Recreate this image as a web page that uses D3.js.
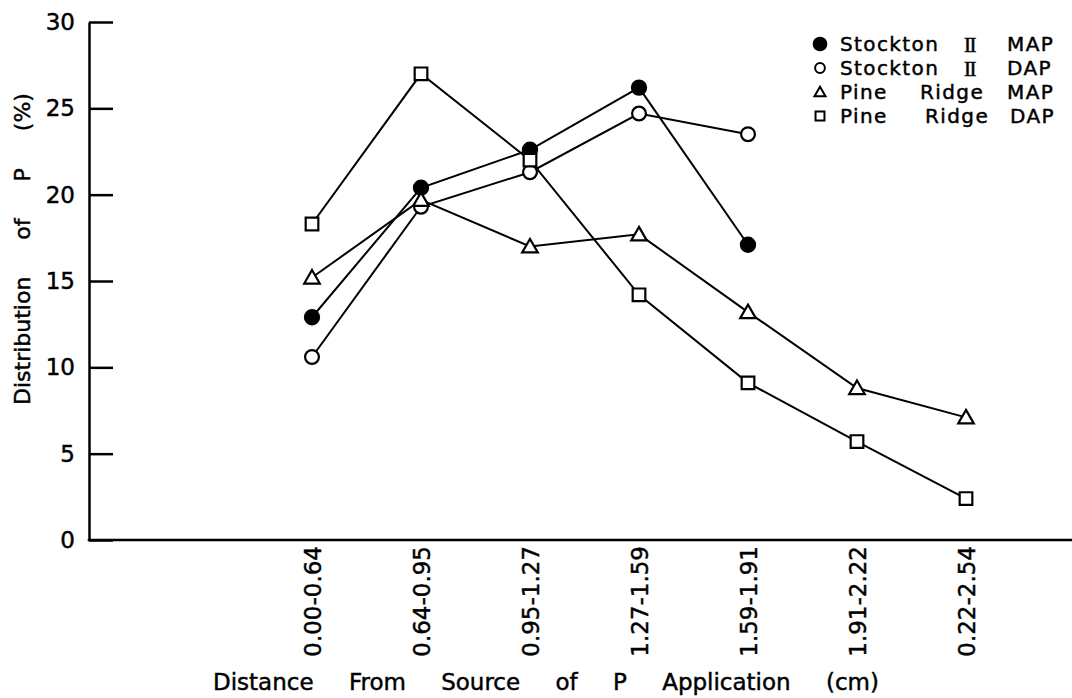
<!DOCTYPE html>
<html>
<head>
<meta charset="utf-8">
<script src="https://cdn.jsdelivr.net/npm/d3@7"></script>
<style>
  html, body { margin: 0; padding: 0; background: #fff; }
  svg { display: block; }
  text { font-family: "DejaVu Sans", sans-serif; fill: #000; stroke: #000; stroke-width: 0.45px; }
</style>
</head>
<body>
<svg id="chart" width="1072" height="698"></svg>
<script>
// Distance classes (cm) from the fertilizer band
const categories = ["0.00-0.64", "0.64-0.95", "0.95-1.27", "1.27-1.59", "1.59-1.91", "1.91-2.22", "0.22-2.54"];

// Distribution of P (%) for each soil / fertilizer combination
const stocktonMAP = [12.9, 20.4, 22.6, 26.2, 17.1, null, null];
const stocktonDAP = [10.6, 19.3, 21.3, 24.7, 23.5, null, null];
const pineRidgeMAP = [15.2, 19.7, 17.0, 17.7, 13.2, 8.8, 7.1];
const pineRidgeDAP = [18.3, 27.0, 22.0, 14.2, 9.1, 5.7, 2.4];

const yTicks = [0, 5, 10, 15, 20, 25, 30];

const seriesNames = ["Stockton", "Stockton", "Pine", "Pine"];
const seriesSites = ["II", "II", "Ridge", "Ridge"];
const seriesFerts = ["MAP", "DAP", "MAP", "DAP"];

const series = [
  { values: stocktonMAP, shape: "circle", filled: true },
  { values: stocktonDAP, shape: "circle", filled: false },
  { values: pineRidgeMAP, shape: "triangle", filled: false },
  { values: pineRidgeDAP, shape: "square", filled: false }
];

const svg = d3.select("#chart");

const x = d3.scalePoint().domain(categories).range([312, 966]).padding(0);
const y = d3.scaleLinear().domain([0, 30]).range([540, 22]);

const axisX0 = 89;

// Y axis: ticks pointing inward, labels on the left
const yAxis = d3.axisLeft(y)
  .tickValues(yTicks)
  .tickSizeInner(-24)
  .tickSizeOuter(0)
  .tickPadding(14)
  .tickFormat(d3.format("d"));

const gy = svg.append("g")
  .attr("transform", `translate(${axisX0},0)`)
  .call(yAxis);
gy.select(".domain").attr("stroke", "#000").attr("stroke-width", 2.5);
gy.selectAll(".tick line").attr("stroke", "#000").attr("stroke-width", 2.5);
gy.selectAll(".tick text")
  .style("font-family", "DejaVu Sans, sans-serif")
  .style("font-size", "23px")
  .attr("fill", "#000");

// X axis: baseline running to the right edge, vertical category labels
svg.append("line")
  .attr("x1", axisX0 - 1.25).attr("x2", 1072)
  .attr("y1", y(0)).attr("y2", y(0))
  .attr("stroke", "#000").attr("stroke-width", 2.5);

const xAxis = d3.axisBottom(x).tickSize(0).tickPadding(0);
const gx = svg.append("g")
  .attr("transform", `translate(0,${y(0)})`)
  .call(xAxis);
gx.select(".domain").remove();
gx.selectAll(".tick text")
  .style("font-family", "DejaVu Sans, sans-serif")
  .style("font-size", "23px")
  .attr("fill", "#000")
  .attr("text-anchor", "end")
  .attr("y", 0)
  .attr("dy", "0.36em")
  .attr("transform", "translate(0,6) rotate(-90)");

// Axis titles
svg.append("text")
  .attr("x", 213).attr("y", 690)
  .style("font-size", "23px")
  .style("word-spacing", "28px")
  .attr("xml:space", "preserve")
  .text("Distance From Source of P Application (cm)");

svg.append("text")
  .attr("transform", "translate(30,405) rotate(-90)")
  .style("font-size", "22px")
  .style("word-spacing", "30px")
  .text("Distribution of P (%)");

// Marker drawing
function symbolPath(shape, scale) {
  const sym = shape === "circle" ? d3.symbolCircle
    : shape === "triangle" ? d3.symbolTriangle : d3.symbolSquare;
  const size = shape === "circle" ? 150 : shape === "triangle" ? 105 : 160;
  return d3.symbol().type(sym).size(size * scale)();
}

const line = d3.line()
  .defined(d => d.v != null)
  .x(d => x(d.c))
  .y(d => y(d.v));

const plot = svg.append("g");

series.forEach(s => {
  const pts = categories.map((c, i) => ({ c, v: s.values[i] }));
  plot.append("path")
    .datum(pts)
    .attr("d", line)
    .attr("fill", "none")
    .attr("stroke", "#000")
    .attr("stroke-width", 2);
});

series.forEach(s => {
  const pts = categories.map((c, i) => ({ c, v: s.values[i] })).filter(d => d.v != null);
  plot.selectAll(null)
    .data(pts)
    .enter()
    .append("path")
    .attr("transform", d => `translate(${x(d.c)},${y(d.v) + (s.shape === "triangle" ? 1.5 : 0)})`)
    .attr("d", symbolPath(s.shape, s.filled ? 1.05 : 1))
    .attr("fill", s.filled ? "#000" : "#fff")
    .attr("stroke", "#000")
    .attr("stroke-width", 2.2);
});

// Legend
const legendRows = [44, 68, 92, 116];
const legendFont = "20px";
const legend = svg.append("g");
series.forEach((s, i) => {
  const g = legend.append("g").attr("transform", `translate(0,${legendRows[i]})`);
  g.append("path")
    .attr("transform", `translate(820,${s.shape === "triangle" ? 1 : 0})`)
    .attr("d", symbolPath(s.shape, s.filled ? 0.85 : 0.5))
    .attr("fill", s.filled ? "#000" : "#fff")
    .attr("stroke", "#000")
    .attr("stroke-width", 2);
  g.append("text").attr("x", 840).attr("dy", "0.36em")
    .style("font-size", legendFont).style("letter-spacing", "1.4px").text(seriesNames[i]);
  const site = g.append("text").attr("dy", "0.36em").style("font-size", legendFont).text(seriesSites[i]);
  if (i < 2) {
    // Roman numeral set in a serif face so the bars carry serifs
    site.attr("x", 964)
      .style("font-family", "Liberation Serif, serif")
      .style("font-size", "21px")
      .style("letter-spacing", "-1.5px");
  } else {
    site.attr("x", i === 2 ? 920 : 925).style("letter-spacing", "1.4px");
  }
  g.append("text").attr("x", i === 3 ? 1010 : 1007).attr("dy", "0.36em")
    .style("font-size", legendFont).style("letter-spacing", "1.4px").text(seriesFerts[i]);
});
</script>
</body>
</html>
